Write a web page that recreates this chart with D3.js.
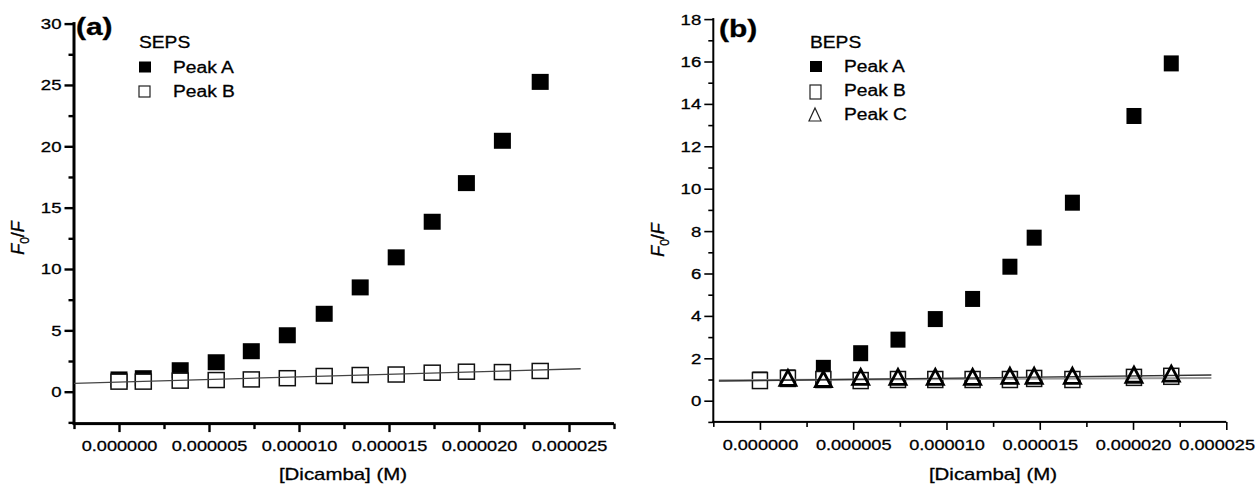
<!DOCTYPE html>
<html>
<head>
<meta charset="utf-8">
<script src="https://cdn.jsdelivr.net/npm/d3@7"></script>
<style>
  body { margin: 0; background: #fff; }
  svg text { font-family: "Liberation Sans", Arial, sans-serif; fill: #000; stroke: #000; stroke-width: 0.3px; }
</style>
</head>
<body>
<div id="chart"></div>
<script>
// --- data ---
// (a) SEPS
const concSEPS = [0, 0.00000135, 0.0000034, 0.0000054, 0.00000735, 0.00000935, 0.0000114, 0.0000134, 0.0000154, 0.0000174, 0.0000193, 0.0000213, 0.0000234];
const sepsPeakA = [1.0, 1.1, 1.75, 2.4, 3.3, 4.6, 6.35, 8.5, 10.95, 13.85, 17.0, 20.45, 25.25];
const sepsPeakB = [0.82, 0.82, 0.9, 0.95, 1.0, 1.1, 1.28, 1.36, 1.4, 1.55, 1.63, 1.6, 1.69];
const sepsFitB = [[-0.0000025, 0.68], [0.00002565, 1.87]];

// (b) BEPS
const concBEPS = [0, 0.0000015, 0.0000034, 0.0000054, 0.0000074, 0.0000094, 0.0000114, 0.0000134, 0.0000147, 0.00001675, 0.00002005, 0.00002205];
const bepsPeakA = [1.0, 1.1, 1.55, 2.24, 2.88, 3.85, 4.8, 6.32, 7.69, 9.34, 13.43, 15.91];
const bepsPeakB = [0.95, 1.05, 1.0, 0.95, 1.0, 1.0, 1.0, 1.0, 1.05, 1.0, 1.1, 1.15];
const bepsPeakC = [null, 1.05, 1.0, 1.1, 1.1, 1.1, 1.1, 1.15, 1.15, 1.15, 1.2, 1.25];
const bepsFitC = [[-0.0000022, 0.93], [0.0000242, 1.21]];
const bepsFitB = [[-0.0000022, 0.97], [0.0000242, 1.07]];

const xTicks = [0, 0.000005, 0.00001, 0.000015, 0.00002, 0.000025];

const svg = d3.select("#chart")
    .append("svg")
    .attr("width", 1257)
    .attr("height", 486);

// the source image is a bit wider than tall, so text is stretched horizontally
function stretch(sel, k) {
    sel.each(function () {
        const w = this.getComputedTextLength();
        this.setAttribute("textLength", w * k);
        this.setAttribute("lengthAdjust", "spacingAndGlyphs");
    });
}

function drawPanel(cfg) {
    const g = svg.append("g");
    const x = d3.scaleLinear().domain(cfg.xDomain).range(cfg.xRange);
    const y = d3.scaleLinear().domain(cfg.yDomain).range(cfg.yRange);
    const y0 = cfg.yRange[0];
    const x0 = cfg.xRange[0];
    const w = cfg.axisW;

    // axis lines (drawn as filled rects so their weight is exact)
    g.append("rect")
        .attr("x", x0 - w / 2).attr("y", y0 - w / 2)
        .attr("width", cfg.xRange[1] - x0 + w / 2).attr("height", w)
        .attr("fill", "#000");
    g.append("rect")
        .attr("x", x0 - w / 2).attr("y", cfg.yRange[1] - w / 2)
        .attr("width", w).attr("height", y0 - cfg.yRange[1] + w / 2)
        .attr("fill", "#000");

    // minor ticks
    g.append("g")
        .attr("transform", `translate(0,${y0})`)
        .call(d3.axisBottom(x).tickValues(cfg.xMinor).tickSize(4 + w / 2).tickSizeOuter(0).tickFormat(""))
        .call(a => a.select(".domain").remove())
        .call(a => a.selectAll("line").attr("stroke", "#000").attr("stroke-width", w * 0.8));
    g.append("g")
        .attr("transform", `translate(${x0},0)`)
        .call(d3.axisLeft(y).tickValues(cfg.yMinor).tickSize(4 + w / 2).tickSizeOuter(0).tickFormat(""))
        .call(a => a.select(".domain").remove())
        .call(a => a.selectAll("line").attr("stroke", "#000").attr("stroke-width", w * 0.8));

    // major axes
    const xa = g.append("g")
        .attr("transform", `translate(0,${y0})`)
        .call(d3.axisBottom(x).tickValues(xTicks).tickSize(7 + w / 2).tickSizeOuter(0)
            .tickPadding(cfg.xPad).tickFormat(d3.format(".6f")))
        .call(a => a.select(".domain").remove())
        .call(a => a.selectAll("line").attr("stroke", "#000").attr("stroke-width", w * 0.8));
    const ya = g.append("g")
        .attr("transform", `translate(${x0},0)`)
        .call(d3.axisLeft(y).tickValues(cfg.yTicks).tickSize(8 + w / 2).tickSizeOuter(0)
            .tickPadding(3).tickFormat(d3.format("d")))
        .call(a => a.select(".domain").remove())
        .call(a => a.selectAll("line").attr("stroke", "#000").attr("stroke-width", w * 0.8));

    xa.selectAll("text").attr("font-size", 15.5).call(stretch, 1.17);
    ya.selectAll("text").attr("font-size", 15.5).call(stretch, 1.2);

    // keep the last x label inside the picture
    xa.selectAll(".tick text").each(function () {
        const b = this.getBBox();
        const t = this.parentNode.transform.baseVal.consolidate().matrix.e;
        const right = t + b.x + b.width;
        if (right > 1255) d3.select(this).attr("x", 1255 - right);
    });

    // Peak A (filled squares)
    const rowsA = cfg.conc.map((c, i) => ({ c, v: cfg.peakA[i] }));
    g.append("g").selectAll("rect")
        .data(rowsA)
        .join("rect")
        .attr("x", d => x(d.c) - cfg.sqA[0] / 2)
        .attr("y", d => y(d.v) - cfg.sqA[1] / 2)
        .attr("width", cfg.sqA[0])
        .attr("height", cfg.sqA[1])
        .attr("fill", "#000");

    // Peak B (open squares, white filled so they cover Peak A)
    const rowsB = cfg.conc.map((c, i) => ({ c, v: cfg.peakB[i] }));
    g.append("g").selectAll("rect")
        .data(rowsB)
        .join("rect")
        .attr("x", d => x(d.c) - cfg.sqB[0] / 2)
        .attr("y", d => y(d.v) - cfg.sqB[1] / 2)
        .attr("width", cfg.sqB[0])
        .attr("height", cfg.sqB[1])
        .attr("fill", "#fff")
        .attr("stroke", "#111")
        .attr("stroke-width", 1.5);

    // fit lines
    const line = d3.line().x(d => x(d[0])).y(d => y(d[1]));
    cfg.fits.forEach(f => {
        g.append("path")
            .attr("d", line(f.pts))
            .attr("fill", "none")
            .attr("stroke", f.color)
            .attr("stroke-width", f.w);
    });

    // Peak C (open triangles)
    if (cfg.peakC) {
        const rowsC = cfg.conc.map((c, i) => ({ c, v: cfg.peakC[i] })).filter(d => d.v != null);
        g.append("g").selectAll("path")
            .data(rowsC)
            .join("path")
            .attr("d", d => {
                const cx = x(d.c), cy = y(d.v);
                return `M${cx},${cy - 8}L${cx + 8},${cy + 7}L${cx - 8},${cy + 7}Z`;
            })
            .attr("fill", "none")
            .attr("stroke", "#000")
            .attr("stroke-width", 2.8)
            .attr("stroke-linejoin", "miter");
    }

    // panel label
    g.append("text")
        .attr("x", cfg.tag[1])
        .attr("y", cfg.tag[2])
        .attr("font-size", 23)
        .attr("font-weight", "bold")
        .text(cfg.tag[0])
        .call(stretch, 1.3);

    // axis titles
    g.append("text")
        .attr("x", cfg.xTitle[0])
        .attr("y", cfg.xTitle[1])
        .attr("text-anchor", "middle")
        .attr("font-size", 17)
        .text("[Dicamba] (M)")
        .call(stretch, 1.2);

    const yt = g.append("text")
        .attr("transform", `translate(${cfg.yTitle[0]},${cfg.yTitle[1]}) rotate(-90)`)
        .attr("text-anchor", "middle")
        .attr("font-size", 18);
    yt.append("tspan").attr("font-style", "italic").text("F");
    yt.append("tspan").attr("font-size", 12).attr("dy", 5).text("0");
    yt.append("tspan").attr("dy", -5).text("/");
    yt.append("tspan").attr("font-style", "italic").text("F");

    // legend
    const lg = g.append("g");
    lg.append("text")
        .attr("x", cfg.legend.x)
        .attr("y", cfg.legend.y)
        .attr("font-size", 16)
        .text(cfg.legend.title)
        .call(stretch, 1.2);
    cfg.legend.items.forEach((it, i) => {
        const by = cfg.legend.y + (i + 1) * cfg.legend.step;
        const mx = cfg.legend.x + 6, my = by - 5;
        if (it.kind === "filled") {
            lg.append("rect").attr("x", mx - 6).attr("y", my - 6).attr("width", 12).attr("height", 11).attr("fill", "#000");
        } else if (it.kind === "open") {
            lg.append("rect").attr("x", mx - 6).attr("y", my - 6).attr("width", 11).attr("height", cfg.legend.openH)
                .attr("fill", "#fff").attr("stroke", "#222").attr("stroke-width", 1.2);
        } else {
            lg.append("path").attr("d", `M${mx - 1},${my - 7}L${mx + 5},${my + 6}L${mx - 7},${my + 6}Z`)
                .attr("fill", "none").attr("stroke", "#222").attr("stroke-width", 1.2);
        }
        lg.append("text")
            .attr("x", cfg.legend.x + 34)
            .attr("y", by)
            .attr("font-size", 16)
            .text(it.label)
            .call(stretch, 1.2);
    });
}

// (a) SEPS
drawPanel({
    conc: concSEPS, peakA: sepsPeakA, peakB: sepsPeakB, peakC: null,
    xDomain: [-0.0000025, 0.0000275], xRange: [74, 614],
    yDomain: [-2.6, 30], yRange: [423.6, 23.6],
    yTicks: [0, 5, 10, 15, 20, 25, 30],
    yMinor: [-2.5, 2.5, 7.5, 12.5, 17.5, 22.5, 27.5],
    xMinor: [-0.0000025, 0.0000025, 0.0000075, 0.0000125, 0.0000175, 0.0000225, 0.0000275],
    xPad: 8, axisW: 3,
    sqA: [17, 16], sqB: [16, 15],
    fits: [{ pts: sepsFitB, color: "#444", w: 1.3 }],
    tag: ["(a)", 76, 35],
    xTitle: [343, 480], yTitle: [24, 238],
    legend: { x: 139, y: 48, step: 24.5, openH: 11, title: "SEPS",
        items: [{ kind: "filled", label: "Peak A" }, { kind: "open", label: "Peak B" }] }
});

// (b) BEPS
drawPanel({
    conc: concBEPS, peakA: bepsPeakA, peakB: bepsPeakB, peakC: bepsPeakC,
    xDomain: [-0.0000025, 0.000025], xRange: [713.3, 1226.3],
    yDomain: [-1, 18], yRange: [421.9, 19.1],
    yTicks: [0, 2, 4, 6, 8, 10, 12, 14, 16, 18],
    yMinor: [-1, 1, 3, 5, 7, 9, 11, 13, 15, 17],
    xMinor: [-0.0000025, 0.0000025, 0.0000075, 0.0000125, 0.0000175, 0.0000225],
    xPad: 9, axisW: 2,
    sqA: [15, 16], sqB: [15, 16],
    fits: [{ pts: bepsFitB, color: "#9a9a9a", w: 2 }, { pts: bepsFitC, color: "#333", w: 1.4 }],
    tag: ["(b)", 719, 37],
    xTitle: [993, 480], yTitle: [664, 240],
    legend: { x: 810, y: 48, step: 24, openH: 14, title: "BEPS",
        items: [{ kind: "filled", label: "Peak A" }, { kind: "open", label: "Peak B" }, { kind: "tri", label: "Peak C" }] }
});
</script>
</body>
</html>
